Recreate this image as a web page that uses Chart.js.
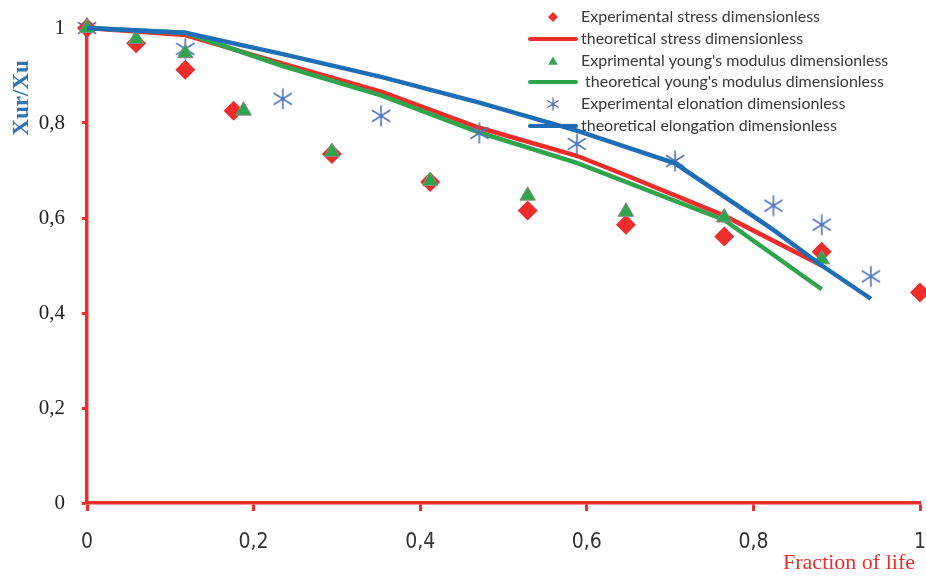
<!DOCTYPE html>
<html>
<head>
<meta charset="utf-8">
<title>Fraction of life</title>
<script src="https://cdn.jsdelivr.net/npm/chart.js@4/dist/chart.umd.min.js"></script>
<style>
    html, body { margin: 0; padding: 0; background: #fff; }
    #wrap { width: 926px; height: 576px; }
</style>
</head>
<body>
<div id="wrap"><canvas id="lifeChart" width="926" height="576"></canvas></div>
<script>
// values
const stressExpX = [0, 0.059, 0.118, 0.176, 0.294, 0.412, 0.529, 0.647, 0.765, 0.882, 1.0];
const stressExpY = [1.0, 0.968, 0.912, 0.826, 0.735, 0.676, 0.616, 0.586, 0.561, 0.529, 0.443];
const stressTheoX = [0, 0.118, 0.235, 0.353, 0.471, 0.588, 0.647, 0.765, 0.882];
const stressTheoY = [1.0, 0.985, 0.925, 0.866, 0.79, 0.731, 0.69, 0.605, 0.5];

const youngExpX = [0, 0.059, 0.118, 0.188, 0.294, 0.412, 0.529, 0.647, 0.765, 0.882];
const youngExpY = [1.0, 0.977, 0.947, 0.826, 0.739, 0.678, 0.647, 0.613, 0.601, 0.513];
const youngTheoX = [0, 0.118, 0.235, 0.353, 0.471, 0.588, 0.765, 0.882];
const youngTheoY = [1.0, 0.99, 0.92, 0.858, 0.78, 0.716, 0.596, 0.45];

const elongExpX = [0, 0.118, 0.235, 0.353, 0.471, 0.588, 0.706, 0.824, 0.882, 0.941];
const elongExpY = [1.0, 0.956, 0.851, 0.815, 0.779, 0.756, 0.72, 0.626, 0.586, 0.477];
const elongTheoX = [0, 0.118, 0.235, 0.353, 0.471, 0.588, 0.706, 0.824, 0.882, 0.941];
const elongTheoY = [1.0, 0.99, 0.945, 0.897, 0.843, 0.784, 0.715, 0.575, 0.5, 0.43];

const seriesLabels = [
    'Experimental stress dimensionless',
    'theoretical stress dimensionless',
    'Exprimental young\'s modulus dimensionless',
    ' theoretical young\'s modulus dimensionless',
    'Experimental elonation dimensionless',
    'theoretical elongation dimensionless'
];
const axisTicks = [0, 0.2, 0.4, 0.6, 0.8, 1];

const RED = '#ec2d2b';
const GREEN = '#2ea54d';
const BLUE = '#1f6db6';
const STAR = '#5274bd';

function pts(xs, ys) {
    return xs.map((x, i) => ({ x: x, y: ys[i] }));
}

// asterisk marker like the spreadsheet one: vertical bar + X
function drawAsterisk(g, cx, cy, r, lw, color) {
    g.save();
    g.strokeStyle = color;
    g.lineWidth = lw;
    g.beginPath();
    g.moveTo(cx, cy - r);
    g.lineTo(cx, cy + r);
    const dx = r * 0.87, dy = r * 0.55;
    g.moveTo(cx - dx, cy - dy);
    g.lineTo(cx + dx, cy + dy);
    g.moveTo(cx + dx, cy - dy);
    g.lineTo(cx - dx, cy + dy);
    g.stroke();
    g.restore();
}

const starImg = document.createElement('canvas');
starImg.width = 24;
starImg.height = 24;
drawAsterisk(starImg.getContext('2d'), 12, 12, 10.5, 1.6, STAR);

function fmt(v) {
    if (v === 0 || v === 1) return String(v);
    return v.toFixed(1).replace('.', ',');
}

const titlesPlugin = {
    id: 'titles',
    afterDraw(chart) {
        const ctx = chart.ctx;
        ctx.save();
        ctx.font = 'bold 23px "Liberation Serif", serif';
        ctx.fillStyle = '#2e75b6';
        ctx.textAlign = 'center';
        ctx.textBaseline = 'middle';
        ctx.translate(22, 98);
        ctx.rotate(-Math.PI / 2);
        ctx.fillText('Xur/Xu', 0, 0);
        ctx.restore();

        ctx.save();
        ctx.font = '22px "Liberation Serif", serif';
        ctx.fillStyle = RED;
        ctx.textAlign = 'right';
        ctx.textBaseline = 'middle';
        ctx.fillText('Fraction of life', 915, 563);
        ctx.restore();
    }
};

const legendPlugin = {
    id: 'sideLegend',
    afterDraw(chart) {
        const ctx = chart.ctx;
        const rowY = [17, 39, 61, 82, 104, 126];
        ctx.save();
        ctx.font = '16px Lato, sans-serif';
        ctx.textBaseline = 'middle';
        ctx.textAlign = 'left';
        chart.data.datasets.forEach((ds, i) => {
            const y = rowY[i];
            if (ds.showLine) {
                ctx.strokeStyle = ds.borderColor;
                ctx.lineWidth = 4;
                ctx.lineCap = 'round';
                ctx.beginPath();
                ctx.moveTo(530, y);
                ctx.lineTo(576, y);
                ctx.stroke();
            } else if (ds.pointStyle === 'rectRot') {
                ctx.fillStyle = ds.backgroundColor;
                Chart.helpers.drawPoint(ctx, { pointStyle: 'rectRot', radius: 5, rotation: 0, borderWidth: 0 }, 553, y);
            } else if (ds.pointStyle === 'triangle') {
                ctx.fillStyle = ds.backgroundColor;
                Chart.helpers.drawPoint(ctx, { pointStyle: 'triangle', radius: 5.5, rotation: 0, borderWidth: 0 }, 553, y + 1);
            } else {
                drawAsterisk(ctx, 553, y, 6, 1.3, STAR);
            }
            ctx.fillStyle = '#3a3a3a';
            ctx.fillText(ds.label, 581, y);
        });
        ctx.restore();
    }
};

const ctx = document.getElementById('lifeChart').getContext('2d');
new Chart(ctx, {
    type: 'scatter',
    data: {
        datasets: [
            {
                label: seriesLabels[0],
                data: pts(stressExpX, stressExpY),
                pointStyle: 'rectRot',
                pointRadius: 10,
                backgroundColor: RED,
                borderWidth: 0,
                order: 2
            },
            {
                label: seriesLabels[1],
                data: pts(stressTheoX, stressTheoY),
                showLine: true,
                borderColor: RED,
                borderWidth: 4.5,
                pointRadius: 0,
                order: 5
            },
            {
                label: seriesLabels[2],
                data: pts(youngExpX, youngExpY),
                pointStyle: 'triangle',
                pointRadius: 9,
                backgroundColor: GREEN,
                borderColor: '#8a8a8a',
                borderWidth: 1,
                order: 1
            },
            {
                label: seriesLabels[3],
                data: pts(youngTheoX, youngTheoY),
                showLine: true,
                borderColor: GREEN,
                borderWidth: 4.5,
                pointRadius: 0,
                order: 4
            },
            {
                label: seriesLabels[4],
                data: pts(elongExpX, elongExpY),
                pointStyle: starImg,
                pointRadius: 10,
                backgroundColor: STAR,
                order: 3
            },
            {
                label: seriesLabels[5],
                data: pts(elongTheoX, elongTheoY),
                showLine: true,
                borderColor: BLUE,
                borderWidth: 4.5,
                pointRadius: 0,
                order: 0
            }
        ].map(ds => Object.assign({ clip: false, tension: 0 }, ds))
    },
    options: {
        responsive: false,
        animation: false,
        events: [],
        layout: { autoPadding: false, padding: { top: 28, right: 6, left: 0, bottom: 0 } },
        plugins: {
            legend: { display: false },
            tooltip: { enabled: false }
        },
        scales: {
            x: {
                type: 'linear',
                min: 0,
                max: 1,
                afterBuildTicks: scale => { scale.ticks = axisTicks.map(v => ({ value: v })); },
                afterFit: scale => {
                    scale.height = 73;
                    scale.paddingLeft = 0;
                    scale.paddingRight = 0;
                },
                border: { color: RED, width: 3.5 },
                grid: { drawOnChartArea: false, color: RED, tickColor: RED, tickWidth: 3, tickLength: 8 },
                ticks: {
                    callback: v => fmt(v),
                    color: '#333',
                    padding: 19,
                    maxRotation: 0,
                    font: { family: '"Liberation Sans Narrow", "DejaVu Sans Condensed", sans-serif', size: 21 }
                }
            },
            y: {
                type: 'linear',
                min: 0,
                max: 1,
                afterBuildTicks: scale => { scale.ticks = axisTicks.map(v => ({ value: v })); },
                afterFit: scale => {
                    scale.width = 87;
                    scale.paddingTop = 0;
                    scale.paddingBottom = 0;
                },
                border: { color: RED, width: 3.5 },
                grid: { drawOnChartArea: false, color: RED, tickColor: RED, tickWidth: 3, tickLength: 5 },
                ticks: {
                    callback: v => fmt(v),
                    color: '#222',
                    padding: 17,
                    font: { family: '"Liberation Serif", serif', size: 21 }
                }
            }
        }
    },
    plugins: [titlesPlugin, legendPlugin]
});
</script>
</body>
</html>
